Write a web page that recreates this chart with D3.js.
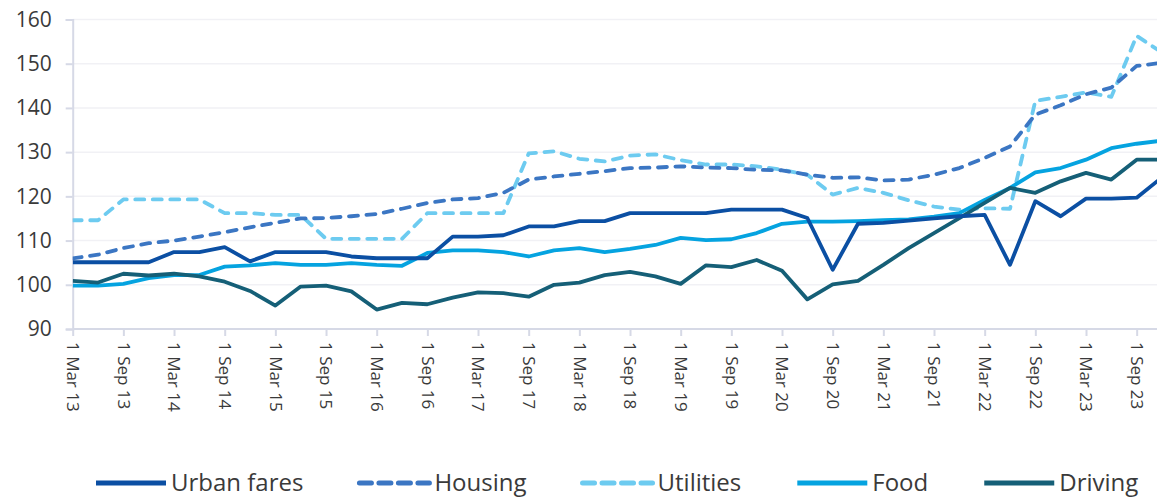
<!DOCTYPE html>
<html lang="en">
<head>
    <meta charset="UTF-8">
    <title>Price indices</title>
    <script src="https://cdn.jsdelivr.net/npm/d3@7"></script>
    <style>
        html, body {
            margin: 0;
            padding: 0;
            background: white;
        }
        body {
            font-family: "Open Sans", sans-serif;
            color: #333;
        }
        .axis text {
            fill: #3a3a3a;
        }
        .axis .domain, .axis .tick line {
            stroke: #d6d9e6;
            stroke-width: 2;
        }
        .grid line {
            stroke: #f1f1f5;
            stroke-width: 1.5;
        }
        .legend text {
            fill: #3a3a3a;
            font-size: 24px;
        }
    </style>
</head>
<body>
<div id="chart"></div>
<script>
    // quarterly observations
    var quarters = [
        "1 Mar 13", "1 Jun 13", "1 Sep 13", "1 Dec 13",
        "1 Mar 14", "1 Jun 14", "1 Sep 14", "1 Dec 14",
        "1 Mar 15", "1 Jun 15", "1 Sep 15", "1 Dec 15",
        "1 Mar 16", "1 Jun 16", "1 Sep 16", "1 Dec 16",
        "1 Mar 17", "1 Jun 17", "1 Sep 17", "1 Dec 17",
        "1 Mar 18", "1 Jun 18", "1 Sep 18", "1 Dec 18",
        "1 Mar 19", "1 Jun 19", "1 Sep 19", "1 Dec 19",
        "1 Mar 20", "1 Jun 20", "1 Sep 20", "1 Dec 20",
        "1 Mar 21", "1 Jun 21", "1 Sep 21", "1 Dec 21",
        "1 Mar 22", "1 Jun 22", "1 Sep 22", "1 Dec 22",
        "1 Mar 23", "1 Jun 23", "1 Sep 23", "1 Dec 23"
    ];

    var tickLabels = quarters.filter(function(q) { return q.indexOf("Mar") > 0 || q.indexOf("Sep") > 0; });
    var yTicks = [90, 100, 110, 120, 130, 140, 150, 160];

    var urbanFares = [105.1, 105.1, 105.1, 105.1, 107.4, 107.4, 108.5, 105.3, 107.4, 107.4, 107.4, 106.4, 106, 106,
        106, 110.9, 110.9, 111.2, 113.2, 113.2, 114.4, 114.4, 116.2, 116.2, 116.2, 116.2, 117, 117, 117,
        115.1, 103.4, 113.8, 114, 114.5, 115, 115.5, 115.8, 104.5, 118.9, 115.5, 119.5, 119.5, 119.7, 124.3];

    var housing = [106, 106.8, 108.3, 109.4, 110, 110.9, 111.9, 113, 114, 115, 115.1, 115.5, 116, 117.2,
        118.5, 119.3, 119.6, 120.8, 123.8, 124.5, 125.1, 125.7, 126.4, 126.5, 126.8, 126.5, 126.4, 126, 125.9,
        124.9, 124.2, 124.3, 123.6, 123.8, 124.9, 126.4, 128.7, 131.3, 138.5, 140.6, 143.1, 144.6, 149.5, 150.2];

    var utilities = [114.6, 114.6, 119.3, 119.3, 119.3, 119.3, 116.2, 116.2, 115.8, 115.8, 110.4, 110.4, 110.4, 110.4,
        116.2, 116.2, 116.2, 116.2, 129.7, 130.2, 128.5, 127.9, 129.2, 129.5, 128.2, 127.2, 127.2, 126.8,
        126, 124.9, 120.4, 121.9, 120.8, 119.1, 117.7, 117, 117.3, 117.2, 141.6, 142.5, 143.5, 142.5, 156.3, 152.5];

    var food = [99.8, 99.8, 100.2, 101.5, 102.2, 102.2, 104.1, 104.4, 104.9, 104.5, 104.5, 104.9, 104.5, 104.3,
        107.2, 107.8, 107.8, 107.4, 106.4, 107.8, 108.3, 107.4, 108.1, 109, 110.6, 110.1, 110.3, 111.7,
        113.8, 114.3, 114.3, 114.4, 114.6, 114.8, 115.4, 116.2, 119.2, 121.9, 125.4, 126.4, 128.3, 130.9, 131.9, 132.6];

    var driving = [100.9, 100.5, 102.5, 102.1, 102.5, 101.9, 100.7, 98.6, 95.3, 99.6, 99.8, 98.5, 94.4, 95.9,
        95.6, 97.1, 98.3, 98.1, 97.3, 100, 100.5, 102.2, 102.9, 101.9, 100.2, 104.4, 104, 105.6,
        103.2, 96.7, 100.1, 100.9, 104.5, 108.3, 111.7, 115.1, 118.5, 121.9, 120.8, 123.4, 125.3, 123.8, 128.3, 128.3];

    var seriesNames = ["Urban fares", "Housing", "Utilities", "Food", "Driving"];
    var seriesValues = [urbanFares, housing, utilities, food, driving];

    var styles = {
        "Urban fares": { color: "#0b4fa3", dash: null },
        "Housing":     { color: "#3b76c3", dash: "9,8.5" },
        "Utilities":   { color: "#6dcbf0", dash: "9,8.5" },
        "Food":        { color: "#05a3e0", dash: null },
        "Driving":     { color: "#155f77", dash: null }
    };

    var width = 1157, height = 498;
    var margin = { top: 19.5, left: 72.7, bottom: 169 };

    var svg = d3.select("#chart")
        .append("svg")
        .attr("width", width)
        .attr("height", height);

    var x = d3.scalePoint()
        .domain(quarters)
        .range([margin.left, 1162]);

    var y = d3.scaleLinear()
        .domain([90, 160])
        .range([height - margin.bottom, margin.top]);

    // horizontal gridlines
    svg.append("g")
        .attr("class", "grid")
        .selectAll("line")
        .data(yTicks.slice(1))
        .enter().append("line")
        .attr("x1", margin.left)
        .attr("x2", width)
        .attr("y1", function(d) { return y(d); })
        .attr("y2", function(d) { return y(d); });

    // y axis
    var yAxis = svg.append("g")
        .attr("class", "axis")
        .attr("transform", "translate(" + margin.left + ",0)")
        .call(d3.axisLeft(y).tickValues(yTicks).tickSize(7).tickPadding(14));
    yAxis.selectAll("text")
        .style("font-family", "'Open Sans', sans-serif")
        .style("font-size", "21px");

    // x axis
    var xAxis = svg.append("g")
        .attr("class", "axis")
        .attr("transform", "translate(0," + y(90) + ")")
        .call(d3.axisBottom(x).tickValues(tickLabels).tickSize(7).tickSizeOuter(0));
    xAxis.select(".domain").attr("d", "M" + margin.left + ",0H" + width);
    xAxis.selectAll("text")
        .style("font-family", "'Open Sans', sans-serif")
        .style("font-size", "17px")
        .attr("transform", "rotate(90)")
        .attr("text-anchor", "start")
        .attr("x", 13)
        .attr("y", 0)
        .attr("dy", "0.36em");

    var line = d3.line()
        .x(function(d, i) { return x(quarters[i]); })
        .y(function(d) { return y(d); });

    svg.append("clipPath")
        .attr("id", "plot-clip")
        .append("rect")
        .attr("x", margin.left)
        .attr("y", 0)
        .attr("width", width - margin.left)
        .attr("height", y(90) + 5);

    // draw back to front so urban fares and driving sit on top
    var order = [2, 1, 3, 4, 0];
    svg.append("g")
        .attr("clip-path", "url(#plot-clip)")
        .selectAll("path")
        .data(order)
        .enter().append("path")
        .attr("d", function(k) { return line(seriesValues[k]); })
        .attr("fill", "none")
        .attr("stroke", function(k) { return styles[seriesNames[k]].color; })
        .attr("stroke-width", 3.8)
        .attr("stroke-linejoin", "round")
        .attr("stroke-linecap", function(k) { return styles[seriesNames[k]].dash ? "round" : "butt"; })
        .attr("stroke-dasharray", function(k) { return styles[seriesNames[k]].dash; });

    // legend
    var legend = svg.append("g").attr("class", "legend");
    var items = legend.selectAll("g")
        .data(seriesNames)
        .enter().append("g");

    items.append("line")
        .attr("x1", 0)
        .attr("x2", 70)
        .attr("y1", 0)
        .attr("y2", 0)
        .attr("stroke", function(d) { return styles[d].color; })
        .attr("stroke-width", 5)
        .attr("stroke-linecap", function(d) { return styles[d].dash ? "round" : "butt"; })
        .attr("stroke-dasharray", function(d) { return styles[d].dash ? "12,7.5" : null; });

    items.append("text")
        .attr("x", 75)
        .attr("dy", "0.35em")
        .text(function(d) { return d; });

    var cursor = 96;
    items.each(function() {
        var g = d3.select(this);
        g.attr("transform", "translate(" + cursor + ",483)");
        cursor += 75 + g.select("text").node().getComputedTextLength() + 56;
    });
</script>
</body>
</html>
